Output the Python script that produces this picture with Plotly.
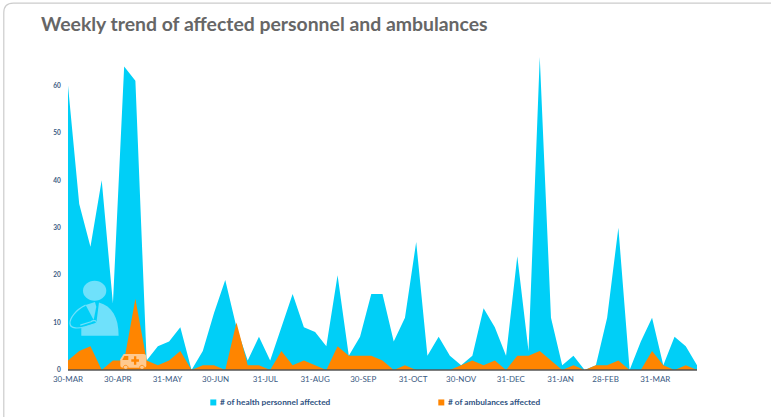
import pandas as pd
import plotly.graph_objects as go

TITLE = "Weekly trend of affected personnel and ambulances"
START_DATE = "2020-03-30"
personnel_name = "# of health personnel affected"
ambulance_name = "# of ambulances affected"
personnel = [60, 35, 26, 40, 14, 64, 61, 2, 5, 6, 9, 0, 4, 12, 19, 9, 2, 7, 2, 9,
             16, 9, 8, 5, 20, 3, 7, 16, 16, 6, 11, 27, 3, 7, 3, 1, 3, 13, 9, 3,
             24, 4, 66, 11, 1, 3, 0, 1, 11, 30, 0, 6, 11, 1, 7, 5, 1]
ambulances = [2, 4, 5, 0, 2, 2, 15, 2, 1, 2, 4, 0, 1, 1, 0, 10, 1, 1, 0, 4,
              1, 2, 1, 0, 5, 3, 3, 3, 2, 0, 1, 0, 0, 0, 0, 1, 2, 1, 2, 0,
              3, 3, 4, 2, 0, 1, 0, 1, 1, 2, 0, 0, 4, 1, 0, 1, 0]
tick_dates = ["2020-03-30", "2020-04-30", "2020-05-31", "2020-06-30", "2020-07-31",
              "2020-08-31", "2020-09-30", "2020-10-31", "2020-11-30", "2020-12-31",
              "2021-01-31", "2021-02-28", "2021-03-31"]
tick_labels = ["30-MAR", "30-APR", "31-MAY", "30-JUN", "31-JUL", "31-AUG", "30-SEP",
               "31-OCT", "30-NOV", "31-DEC", "31-JAN", "28-FEB", "31-MAR"]
y_ticks = [0, 10, 20, 30, 40, 50, 60]

dates = pd.date_range(START_DATE, periods=len(personnel), freq="7D")

W, H = 771, 418
L, R, T, B = 67.7, 696.7, 37.5, 370.0
CYAN, ORANGE = "#00CFF7", "#FF8500"
NAVY = "#3A5A82"


def px(x, y):
    return (x - L) / (R - L), (B - y) / (B - T)


def path(cmds):
    """cmds: list of (letter, x1, y1, ...) in page pixels -> paper-space SVG path."""
    out = []
    for c in cmds:
        s = c[0]
        pts = []
        for i in range(1, len(c), 2):
            a, b = px(c[i], c[i + 1])
            pts.append(f"{a:.5f},{b:.5f}")
        out.append(s + " ".join(pts))
    return " ".join(out)


def Z(x, y):  # icon drawing coords (3x crop)
    return 60 + x / 3, 270 + y / 3


def zpath(cmds):
    res = []
    for c in cmds:
        if len(c) == 1:
            res.append(c)
            continue
        vals = []
        for i in range(1, len(c), 2):
            vals += list(Z(c[i], c[i + 1]))
        res.append((c[0], *vals))
    return path(res)


def ell(xc, yc, rx, ry):
    k = 0.5523
    return zpath([("M", xc - rx, yc),
                  ("C", xc - rx, yc - k * ry, xc - k * rx, yc - ry, xc, yc - ry),
                  ("C", xc + k * rx, yc - ry, xc + rx, yc - k * ry, xc + rx, yc),
                  ("C", xc + rx, yc + k * ry, xc + k * rx, yc + ry, xc, yc + ry),
                  ("C", xc - k * rx, yc + ry, xc - rx, yc + k * ry, xc - rx, yc), ("Z",)])


DOC = "#6FE1FB"
AMB = "#FFC98F"
shapes = []


def add(p, fill=None, line=None, lw=0):
    shapes.append(dict(type="path", xref="paper", yref="paper", path=p, layer="above",
                       fillcolor=fill or "rgba(0,0,0,0)",
                       line=dict(color=line or "rgba(0,0,0,0)", width=lw)))


# card border
add(path([("M", 3.5, 417), ("L", 3.5, 12), ("Q", 3.5, 2.5, 13, 2.5), ("L", 771, 2.5)]),
    line="#CCCCCC", lw=1.2)
# doctor icon
add(ell(103, 62, 35, 30), fill=DOC)
add(zpath([("M", 63, 197), ("L", 63, 172), ("L", 108, 160), ("L", 116, 97),
           ("C", 155, 108, 175, 140, 175, 197), ("Z",)]), fill=DOC)
add(zpath([("M", 76, 105), ("L", 104, 96), ("L", 108, 110), ("L", 100, 150), ("Z",)]), fill=DOC)
add(zpath([("M", 76, 105), ("C", 45, 120, 28, 145, 29, 160), ("C", 30, 178, 55, 175, 75, 170),
           ("L", 108, 160), ("C", 110, 150, 98, 150, 92, 155), ("L", 60, 165)]),
    line=DOC, lw=1.2)
# ambulance icon
add(zpath([("M", 190, 252), ("L", 250, 252), ("Q", 258, 252, 258, 262), ("L", 258, 288),
           ("Q", 258, 293, 250, 293), ("L", 188, 293), ("Q", 180, 293, 180, 285),
           ("L", 180, 268), ("Z",)]), fill=AMB)
add(zpath([("M", 192, 258), ("L", 204, 258), ("L", 204, 270), ("L", 186, 270), ("Z",)]), fill=ORANGE)
add(zpath([("M", 221, 259), ("L", 228, 259), ("L", 228, 268), ("L", 236, 268), ("L", 236, 275),
           ("L", 228, 275), ("L", 228, 284), ("L", 221, 284), ("L", 221, 275), ("L", 213, 275),
           ("L", 213, 268), ("L", 221, 268), ("Z",)]), fill=ORANGE)
add(ell(196, 292, 7, 6), fill=AMB, line=ORANGE, lw=0.8)
add(ell(245, 292, 7, 6), fill=AMB, line=ORANGE, lw=0.8)
# legend swatches
for (x0, colour) in ((210, CYAN), (438, ORANGE)):
    add(path([("M", x0, 399.5), ("L", x0 + 6, 399.5), ("L", x0 + 6, 405.5), ("L", x0, 405.5), ("Z",)]),
        fill=colour)

fig = go.Figure()
fig.add_trace(go.Scatter(x=dates, y=personnel, name=personnel_name, mode="lines",
                         fill="tozeroy", fillcolor=CYAN, line=dict(color=CYAN, width=0)))
fig.add_trace(go.Scatter(x=dates, y=ambulances, name=ambulance_name, mode="lines",
                         fill="tozeroy", fillcolor=ORANGE, line=dict(color=ORANGE, width=0)))

ann = []
for x0, text in ((217.5, personnel_name), (445.5, ambulance_name)):
    xp, yp = px(x0, 402.5)
    ann.append(dict(x=xp, y=yp, xref="paper", yref="paper", text=text, showarrow=False,
                    xanchor="left", yanchor="middle",
                    font=dict(family="Lato", size=8.3, color="#2F527F", weight="bold")))

fig.update_layout(
    width=W, height=H, showlegend=False,
    paper_bgcolor="white", plot_bgcolor="white",
    margin=dict(l=L, r=W - R, t=T, b=H - B, pad=0),
    title=dict(text=TITLE, x=41 / W, xanchor="left", y=1 - 24 / H, yanchor="middle",
               font=dict(family="Lato", size=19.4, color="#666666", weight="bold")),
    xaxis=dict(type="date", range=[dates[0], dates[-1]], tickmode="array",
               tickvals=tick_dates, ticktext=tick_labels, showgrid=False, zeroline=False,
               ticks="outside", ticklen=1, tickcolor="rgba(0,0,0,0)",
               tickfont=dict(family="Lato", size=8, color=NAVY), tickangle=0,
               showline=False),
    yaxis=dict(range=[0, 70], tickmode="array", tickvals=y_ticks, showgrid=False,
               zeroline=False, showline=False, ticks="outside", ticklen=5,
               tickcolor="rgba(0,0,0,0)",
               tickfont=dict(family="Lato", size=6.5, color=NAVY, weight="bold")),
    shapes=shapes + [dict(type="line", xref="paper", yref="paper", x0=0, x1=1, y0=0, y1=0,
                          line=dict(color="#555555", width=1.5), layer="above")],
    annotations=ann,
)
fig.write_html("out.html", config={"displayModeBar": False},
               post_script="document.body.style.margin='0';document.documentElement.style.overflow='hidden';")
